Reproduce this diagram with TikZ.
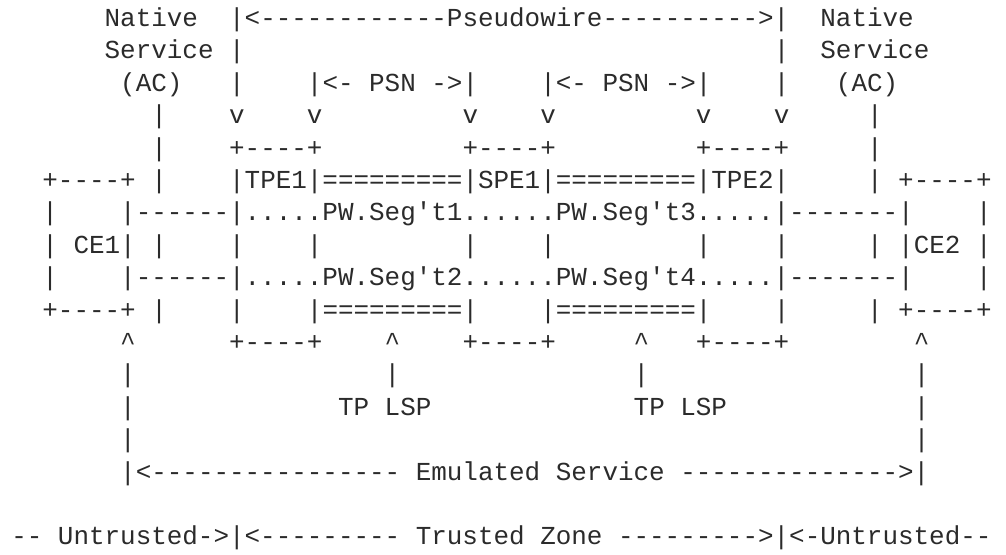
\documentclass[tikz,border=0pt]{standalone}
\usepackage{fontspec}
\setmonofont{Liberation Mono}
\definecolor{ink}{HTML}{2B2B2B}
\tikzset{
  asc/.style={anchor=base west, inner sep=0pt, outer sep=0pt, text=ink,
    font=\ttfamily\fontsize{25.93pt}{30pt}\selectfont}
}
\newcommand\cellx{15.56}
\newcommand\asctxt[3]{\node[asc] (r#1c#2) at ({11.3pt+\cellx pt*#2},{-26.5pt-32.4pt*(#1-1)}) {#3};}
\begin{document}
\begin{tikzpicture}[x=1pt,y=1pt]
\useasboundingbox[fill=white] (0,0) rectangle (1006,-554);
% row 1
\asctxt{1}{6}{Native}
\asctxt{1}{14}{|<------------Pseudowire---------->|}
\asctxt{1}{52}{Native}
% row 2
\asctxt{2}{6}{Service |}
\asctxt{2}{49}{|}
\asctxt{2}{52}{Service}
% row 3
\asctxt{3}{7}{(AC)}
\asctxt{3}{14}{|}
\asctxt{3}{19}{|<- PSN ->|}
\asctxt{3}{34}{|<- PSN ->|}
\asctxt{3}{49}{|}
\asctxt{3}{53}{(AC)}
% row 4
\asctxt{4}{9}{|}
\asctxt{4}{14}{v}
\asctxt{4}{19}{v}
\asctxt{4}{29}{v}
\asctxt{4}{34}{v}
\asctxt{4}{44}{v}
\asctxt{4}{49}{v}
\asctxt{4}{55}{|}
% row 5
\asctxt{5}{9}{|}
\asctxt{5}{14}{+----+}
\asctxt{5}{29}{+----+}
\asctxt{5}{44}{+----+}
\asctxt{5}{55}{|}
% row 6
\asctxt{6}{2}{+----+ |}
\asctxt{6}{14}{|TPE1|=========|SPE1|=========|TPE2|}
\asctxt{6}{55}{| +----+}
% row 7
\asctxt{7}{2}{|}
\asctxt{7}{7}{|------|.....PW.Seg't1......PW.Seg't3.....|-------|}
\asctxt{7}{62}{|}
% row 8
\asctxt{8}{2}{| CE1| |}
\asctxt{8}{14}{|}
\asctxt{8}{19}{|}
\asctxt{8}{29}{|}
\asctxt{8}{34}{|}
\asctxt{8}{44}{|}
\asctxt{8}{49}{|}
\asctxt{8}{55}{| |CE2 |}
% row 9
\asctxt{9}{2}{|}
\asctxt{9}{7}{|------|.....PW.Seg't2......PW.Seg't4.....|-------|}
\asctxt{9}{62}{|}
% row 10
\asctxt{10}{2}{+----+ |}
\asctxt{10}{14}{|}
\asctxt{10}{19}{|=========|}
\asctxt{10}{34}{|=========|}
\asctxt{10}{49}{|}
\asctxt{10}{55}{| +----+}
% row 11
\asctxt{11}{7}{\textasciicircum}
\asctxt{11}{14}{+----+}
\asctxt{11}{24}{\textasciicircum}
\asctxt{11}{29}{+----+}
\asctxt{11}{40}{\textasciicircum}
\asctxt{11}{44}{+----+}
\asctxt{11}{58}{\textasciicircum}
% row 12
\asctxt{12}{7}{|}
\asctxt{12}{24}{|}
\asctxt{12}{40}{|}
\asctxt{12}{58}{|}
% row 13
\asctxt{13}{7}{|}
\asctxt{13}{21}{TP LSP}
\asctxt{13}{40}{TP LSP}
\asctxt{13}{58}{|}
% row 14
\asctxt{14}{7}{|}
\asctxt{14}{58}{|}
% row 15
\asctxt{15}{7}{|<---------------- Emulated Service -------------->|}
% row 17
\asctxt{17}{0}{-- Untrusted->|<--------- Trusted Zone --------->|<-Untrusted--}
\end{tikzpicture}
\end{document}
